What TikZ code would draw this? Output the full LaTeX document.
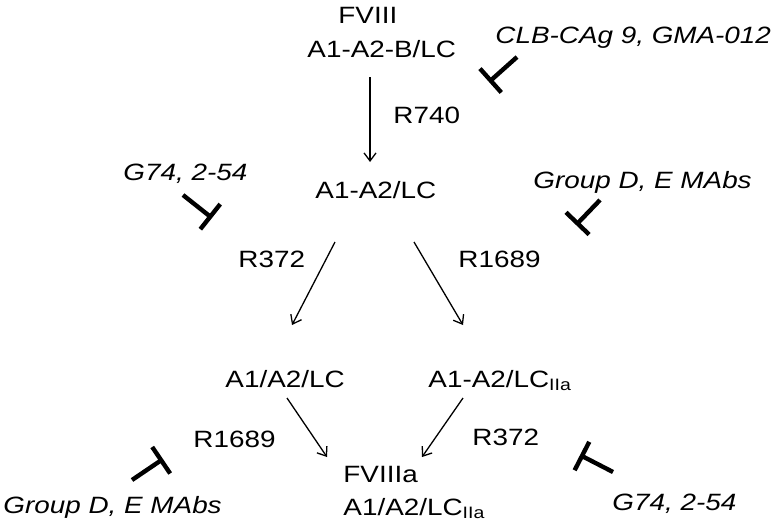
\documentclass[tikz,border=0pt]{standalone}
\usepackage{fontspec}
\setmainfont{Liberation Sans}
\usepackage{tikz}
\usetikzlibrary{arrows.meta}
\usetikzlibrary{calc}

\begin{document}
\begin{tikzpicture}[x=0.5pt, y=-0.5pt,
        lbl/.style={anchor=base west, inner sep=0pt, xscale=1.18, font=\fontsize{11.8}{14}\selectfont},
        mab/.style={lbl, font=\fontsize{11.8}{14}\selectfont\itshape},
        conv/.style={line width=0.65pt, -{Straight Barb[length=4pt,width=6pt]}},
        block/.style={line width=2.2pt, -{Bar[width=16pt]}}]
            \useasboundingbox (0,0) rectangle (780,526);
            % species
            \node[lbl] (fviii) at (338,23) {FVIII};
            \node[lbl] (fl) at (307,57) {A1-A2-B/LC};
            \node[lbl] (hc) at (315,198) {A1-A2/LC};
            \node[lbl] (ha) at (225,387) {A1/A2/LC};
            \node[lbl] (hb) at (428,387) {A1-A2/LC\textsubscript{IIa}};
            \node[lbl] (fa) at (343,482) {FVIIIa};
            \node[lbl] (fal) at (343,515) {A1/A2/LC\textsubscript{IIa}};
            % cleavage sites
            \node[lbl] (r740) at (393,123) {R740};
            \node[lbl] (r372a) at (238,267) {R372};
            \node[lbl] (r1689a) at (458,267) {R1689};
            \node[lbl] (r1689b) at (193,447) {R1689};
            \node[lbl] (r372b) at (472,445) {R372};
            % antibodies
            \node[mab] (clb) at (495,43) {CLB-CAg 9, GMA-012};
            \node[mab] (gA) at (123,180) {G74, 2-54};
            \node[mab] (grpA) at (533,188) {Group D, E MAbs};
            \node[mab] (grpB) at (3,513) {Group D, E MAbs};
            \node[mab] (gB) at (612,510) {G74, 2-54};
            % conversions
            \draw[conv] ($(fl.base west)+(63,20)$) -- ($(hc.base west)+(55,-36)$);
            \draw[conv] ($(hc.base west)+(20,44)$) -- ($(ha.base west)+(67,-62)$);
            \draw[conv] ($(hc.base west)+(99,44)$) -- ($(hb.base west)+(35,-62)$);
            \draw[conv] ($(ha.base west)+(62,11)$) -- ($(fa.base west)+(-16,-25)$);
            \draw[conv] ($(hb.base west)+(35,11)$) -- ($(fa.base west)+(79,-25)$);
            % inhibition
            \draw[block] ($(clb.base west)+(22,14)$) -- ($(clb.base west)+(-6,39)$);
            \draw[block] ($(gA.base west)+(60,15)$) -- ($(gA.base west)+(89,38)$);
            \draw[block] ($(grpA.base west)+(67,12)$) -- ($(grpA.base west)+(43,37)$);
            \draw[block] ($(grpB.base west)+(129,-33)$) -- ($(grpB.base west)+(160,-54)$);
            \draw[block] ($(gB.base west)+(1,-38)$) -- ($(gB.base west)+(-32,-55)$);
        \end{tikzpicture}
\end{document}
